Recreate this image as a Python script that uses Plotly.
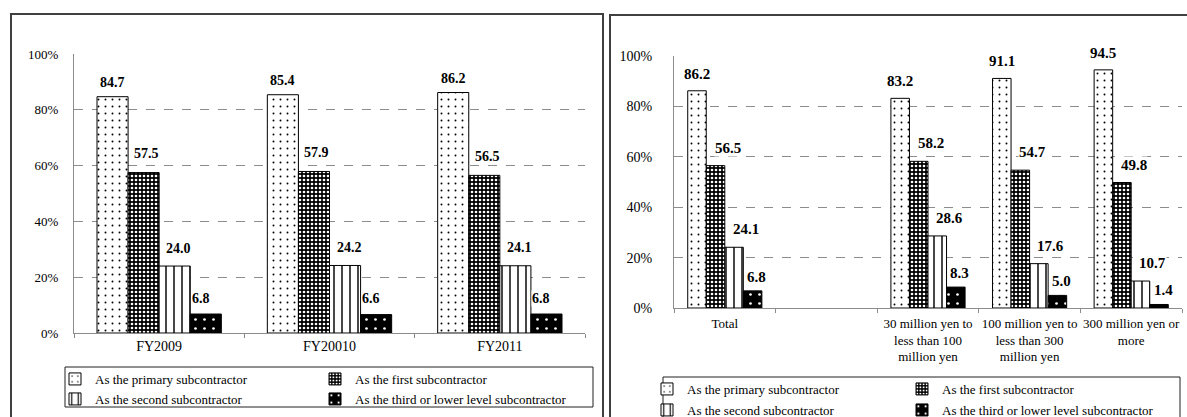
import plotly.graph_objects as go

W, H = 1187, 417

# ---- data ----
series_names = [
    "As the primary subcontractor",
    "As the first subcontractor",
    "As the second subcontractor",
    "As the third or lower level subcontractor",
]

years = ["FY2009", "FY20010", "FY2011"]
year_primary = [84.7, 85.4, 86.2]
year_first = [57.5, 57.9, 56.5]
year_second = [24.0, 24.2, 24.1]
year_third = [6.8, 6.6, 6.8]

capital_groups = [
    "Total",
    " ",
    "30 million yen to<br>less than 100<br>million yen",
    "100 million yen to<br>less than 300<br>million yen",
    "300 million yen or<br>more",
]
cap_primary = [86.2, None, 83.2, 91.1, 94.5]
cap_first = [56.5, None, 58.2, 54.7, 49.8]
cap_second = [24.1, None, 28.6, 17.6, 10.7]
cap_third = [6.8, None, 8.3, 5.0, 1.4]

y_ticks = [0, 20, 40, 60, 80, 100]
y_tick_text = ["0%", "20%", "40%", "60%", "80%", "100%"]

# ---- styling ----
FONT = "Liberation Serif"
GRID = "#8c8c8c"
BARGAP = 0.27

patterns = [
    dict(shape=".", fgcolor="black", bgcolor="white", size=7, solidity=0.06),
    dict(shape=".", fgcolor="white", bgcolor="black", size=4, solidity=0.35),
    dict(shape="|", fgcolor="black", bgcolor="white", size=8, solidity=0.18),
    dict(shape=".", fgcolor="white", bgcolor="black", size=9, solidity=0.07),
]

# plot-area edges in pixels: (x0, x1, y_bottom, y_top)
LEFT_AREA = (74, 585, 333, 54)
RIGHT_AREA = (674, 1182, 308, 56)

# horizontal nudge and vertical lift (px) of the value labels per series
LEFT_LABEL_DX = [0, 3, 4, -5]
LEFT_LABEL_LIFT = [14, 19, 18, 16]
RIGHT_LABEL_DX = [0, 12, 12, 4]
RIGHT_LABEL_LIFT = [17, 18, 18, 14]


def px_x(v):
    return v / W


def px_y(v):
    return 1 - v / H


fig = go.Figure()

left_series = [year_primary, year_first, year_second, year_third]
right_series = [cap_primary, cap_first, cap_second, cap_third]


def bar_style(i):
    return dict(color=patterns[i]["bgcolor"], line=dict(color="black", width=1),
                pattern=dict(fillmode="replace", **patterns[i]))


for i, (name, vals) in enumerate(zip(series_names, left_series)):
    fig.add_trace(go.Bar(
        x=years, y=vals, name=name, xaxis="x", yaxis="y",
        marker=bar_style(i), showlegend=True,
        legend="legend" if i == 0 else f"legend{i + 1}",
        hoverinfo="skip",
    ))

for i, (name, vals) in enumerate(zip(series_names, right_series)):
    fig.add_trace(go.Bar(
        x=capital_groups, y=vals, name=name, xaxis="x2", yaxis="y2",
        marker=bar_style(i), showlegend=True,
        legend=f"legend{i + 5}",
        hoverinfo="skip",
    ))


# value labels placed over each bar of the grouped layout
def add_value_labels(cats, series, area, xref, yref, size, dx, lift):
    cat_w = (area[1] - area[0]) / len(cats)
    bar_w = cat_w * (1 - BARGAP) / len(series)
    for i, vals in enumerate(series):
        for c, v in zip(cats, vals):
            if v is None:
                continue
            fig.add_annotation(
                x=c, y=v, xref=xref, yref=yref, text=f"{v:.1f}",
                showarrow=False, xanchor="center", yanchor="middle",
                xshift=(i - (len(series) - 1) / 2) * bar_w + dx[i], yshift=lift[i],
                font=dict(family=FONT, size=size, color="black", weight="bold"),
                bgcolor="white", borderpad=0,
            )


add_value_labels(years, left_series, LEFT_AREA, "x", "y", 14, LEFT_LABEL_DX, LEFT_LABEL_LIFT)
add_value_labels(capital_groups, right_series, RIGHT_AREA, "x2", "y2", 15,
                 RIGHT_LABEL_DX, RIGHT_LABEL_LIFT)


def x_axis(area, yname, size, standoff):
    return dict(domain=[px_x(area[0]), px_x(area[1])], anchor=yname,
                showline=True, linecolor=GRID, linewidth=1,
                ticks="outside", tickson="boundaries", ticklen=4, tickcolor=GRID,
                ticklabelstandoff=standoff,
                tickangle=0, tickfont=dict(family=FONT, size=size, color="black"))


def y_axis(area, xname, size, standoff):
    return dict(domain=[px_y(area[2]), px_y(area[3])], anchor=xname, range=[0, 100],
                tickvals=y_ticks, ticktext=y_tick_text, ticks="", ticklabelstandoff=standoff,
                showline=True, linecolor=GRID, linewidth=1,
                showgrid=True, gridcolor=GRID, griddash="dash", gridwidth=1, zeroline=False,
                tickfont=dict(family=FONT, size=size, color="black"))


fig.update_layout(
    width=W, height=H,
    margin=dict(l=0, r=0, t=0, b=0, autoexpand=False),
    paper_bgcolor="white", plot_bgcolor="white",
    showlegend=True,
    barmode="group", bargap=BARGAP, bargroupgap=0,
    font=dict(family=FONT, color="black"),
    xaxis=x_axis(LEFT_AREA, "y", 14, 0),
    yaxis=y_axis(LEFT_AREA, "x", 13, 12),
    xaxis2=x_axis(RIGHT_AREA, "y2", 13, 3),
    yaxis2=y_axis(RIGHT_AREA, "x2", 14, 18),
)

# one-item legends laid out in two columns inside each legend box
legend_pos = [
    (95, 379), (355, 379), (95, 399), (355, 399),      # left chart
    (687, 389), (942, 389), (687, 410), (942, 410),    # right chart
]
for k, (tx, ty) in enumerate(legend_pos):
    key = "legend" if k == 0 else f"legend{k + 1}"
    fig.update_layout({key: dict(
        visible=True,
        x=px_x(tx - 40), y=px_y(ty), xanchor="left", yanchor="middle",
        bgcolor="rgba(0,0,0,0)", borderwidth=0,
        font=dict(family=FONT, size=13, color="black"),
        itemclick=False, itemdoubleclick=False,
    )})

shapes = [
    # chart frames
    dict(type="rect", xref="paper", yref="paper",
         x0=px_x(11), x1=px_x(603), y0=px_y(425), y1=px_y(14),
         line=dict(color="#404040", width=2)),
    dict(type="rect", xref="paper", yref="paper",
         x0=px_x(610), x1=px_x(1195), y0=px_y(425), y1=px_y(15),
         line=dict(color="#404040", width=2)),
    # legend boxes
    dict(type="rect", xref="paper", yref="paper",
         x0=px_x(65), x1=px_x(593), y0=px_y(407), y1=px_y(367),
         line=dict(color="#202020", width=1)),
    dict(type="rect", xref="paper", yref="paper",
         x0=px_x(663), x1=px_x(1180), y0=px_y(425), y1=px_y(377),
         line=dict(color="#202020", width=1)),
]
fig.update_layout(shapes=shapes)

fig.write_html("out.html")
